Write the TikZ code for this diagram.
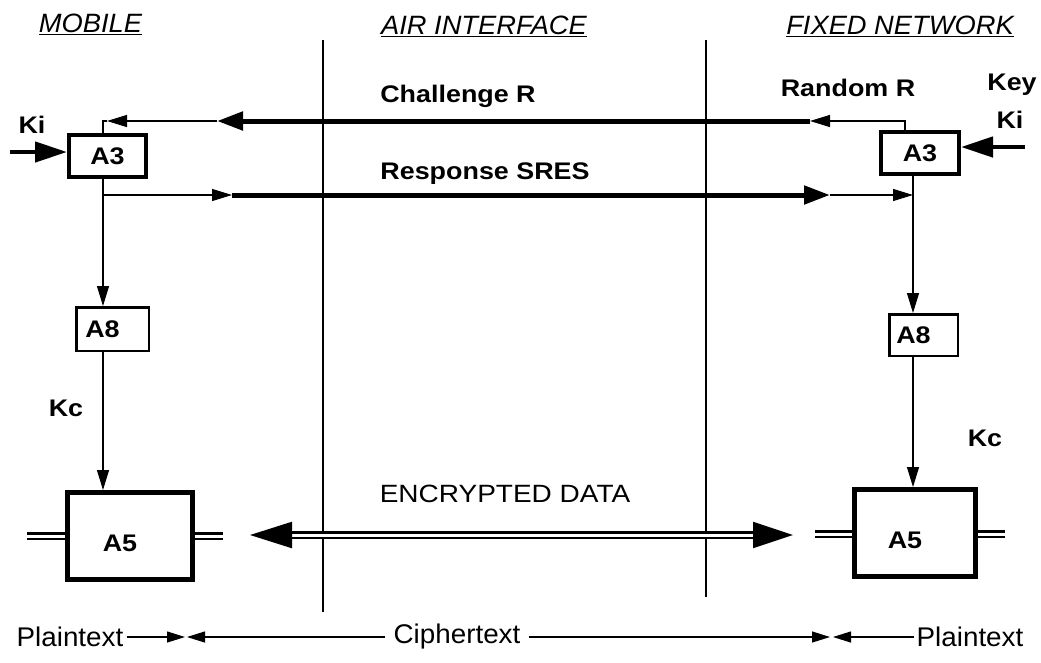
\documentclass[tikz,border=0pt]{standalone}
\usepackage{fontspec}
\setmainfont{Liberation Sans}
\newfontfamily\widefont{Liberation Sans}[FakeStretch=1.12]
\newfontfamily\hdrfont{Liberation Sans}[FakeStretch=1.03]
\usetikzlibrary{arrows.meta}
\newcommand\shifttxt[1]{\hspace*{-20pt}#1}
\begin{document}
\begin{tikzpicture}[x=1pt,y=-1pt,
  lab/.style={font=\widefont\bfseries\fontsize{24}{28}\selectfont, inner sep=0pt},
  hdr/.style={font=\hdrfont\itshape\fontsize{26.5}{30}\selectfont, inner sep=0pt},
  btm/.style={font=\hdrfont\fontsize{27}{30}\selectfont, inner sep=0pt},
  enc/.style={font=\widefont\fontsize{25}{30}\selectfont, inner sep=0pt},
  blk/.style={draw, fill=white, inner sep=0pt, font=\widefont\bfseries\fontsize{24}{28}\selectfont},
  a5box/.style={blk, line width=5pt, text height=31pt, text depth=0pt},
  thinln/.style={line width=1.2pt},
  thickln/.style={line width=5pt},
  sh/.style={-{Triangle[length=20pt,width=12pt]}},
  bh/.style={-{Triangle[length=26pt,width=18pt]}},
  kh/.style={-{Triangle[length=32pt,width=20pt]}},
  th/.style={-{Triangle[length=18pt,width=11pt]}},
  dbl/.style={double, line width=2.2pt, double distance=3pt},
  sep/.style={line width=1.5pt},
]
\useasboundingbox (0,0) rectangle (1041,662);
\fill[white] (0,0) rectangle (1041,662);

% headers
\node[hdr] (hm) at (90.5,24) {\underline{MOBILE}};
\node[hdr] (ha) at (484,26) {\underline{AIR INTERFACE}};
\node[hdr] (hf) at (900,26) {\underline{FIXED NETWORK}};

% separators
\coordinate (s1t) at (323,40); \coordinate (s1b) at (323,612);
\coordinate (s2t) at (706,40); \coordinate (s2b) at (706,597);
\draw[sep] (s1t) -- (s1b);
\draw[sep] (s2t) -- (s2b);

% boxes
\node[blk, line width=4pt, minimum width=77pt, minimum height=42pt] (la3) at (107.5,156) {A3};
\node[blk, line width=4pt, minimum width=78pt, minimum height=42pt] (ra3) at (920,153) {A3};
\node[blk, line width=2.5pt, minimum width=72.5pt, minimum height=43.5pt] (la8) at (112.5,329) {\shifttxt{A8}};
\node[blk, line width=2.5pt, minimum width=68.5pt, minimum height=41.5pt] (ra8) at (923.5,335) {\shifttxt{A8}};
\node[a5box, minimum width=125pt, minimum height=87pt] (la5) at (130,536) {\shifttxt{A5}};
\node[a5box, minimum width=121pt, minimum height=87pt] (ra5) at (915,533) {\shifttxt{A5}};

% labels
\node[lab] (tki) at (32,125) {Ki};
\node[lab] (tkey) at (1012,85) {Key};
\node[lab] (tki2) at (1010,120) {Ki};
\node[lab] (trand) at (848,88) {Random R};
\node[lab] (tchal) at (458,96) {Challenge R};
\node[lab] (tresp) at (485,174) {Response SRES};
\node[lab] (tkc1) at (66,408) {Kc};
\node[lab] (tkc2) at (985,438) {Kc};
\node[enc] (tenc) at (505,494) {ENCRYPTED DATA};

% challenge path
\coordinate (cR) at (905,121);
\coordinate (c1) at (810,121);
\coordinate (c2) at (217,121);
\coordinate (c3) at (107,121);
\coordinate (cL) at (103,121);
\draw[thinln, sh] (ra3.north -| cR) -- (cR) -- (c1);
\draw[thickln, bh] (c1) -- (c2);
\draw[thinln, sh] (c2) -- (c3);
\draw[thinln] (c3) -- (cL) -- (la3.north -| cL);

% response path
\coordinate (r0) at (103,195);
\coordinate (r1) at (232,195);
\coordinate (r2) at (830,195);
\coordinate (r3) at (913,195);
\draw[thinln, sh] (la3.south -| r0) -- (la8.north -| r0);
\draw[thinln, sh] (r0) -- (r1);
\draw[thickln, bh] (r1) -- (r2);
\draw[thinln, sh] (r2) -- (r3);
\draw[thinln, sh] (ra3.south -| r3) -- (ra8.north -| r3);

% Kc paths
\draw[thinln, sh] (la8.south -| r0) -- (la5.north -| r0);
\draw[thinln, sh] (ra8.south -| r3) -- (ra5.north -| r3);

% key inputs
\coordinate (kiL) at (10,152);
\coordinate (kiR) at (1025,147);
\draw[line width=4.5pt, kh] (kiL) -- (la3.west |- kiL);
\draw[line width=4.5pt, kh] (kiR) -- (ra3.east |- kiR);

% data lines
\coordinate (dL1) at (27,536); \coordinate (dL2) at (223,536);
\coordinate (dR1) at (815,534); \coordinate (dR2) at (1005,534);
\draw[dbl] (dL1) -- (la5.west |- dL1);
\draw[dbl] (la5.east |- dL1) -- (dL2);
\draw[dbl] (dR1) -- (ra5.west |- dR1);
\draw[dbl] (ra5.east |- dR1) -- (dR2);

\coordinate (eL) at (250,535); \coordinate (eR) at (793,535);
\draw[dbl, {Triangle[length=42pt,width=26pt]}-{Triangle[length=40pt,width=26pt]}] (eL) -- (eR);

% bottom row
\node[btm] (pl) at (70,637) {Plaintext};
\node[btm] (ct) at (457,637) {Ciphertext};
\node[btm] (pr) at (970,637) {Plaintext};
\coordinate (b1) at (185,637); \coordinate (b2) at (187,637);
\coordinate (b3) at (830,637); \coordinate (b4) at (833,637);
\draw[thinln, th] ([xshift=3pt]pl.east) -- (b1);
\draw[thinln, th] ([xshift=-8pt]ct.west) -- (b2);
\draw[thinln, th] ([xshift=8pt]ct.east) -- (b3);
\draw[thinln, th] ([xshift=-2pt]pr.west) -- (b4);
\end{tikzpicture}
\end{document}
